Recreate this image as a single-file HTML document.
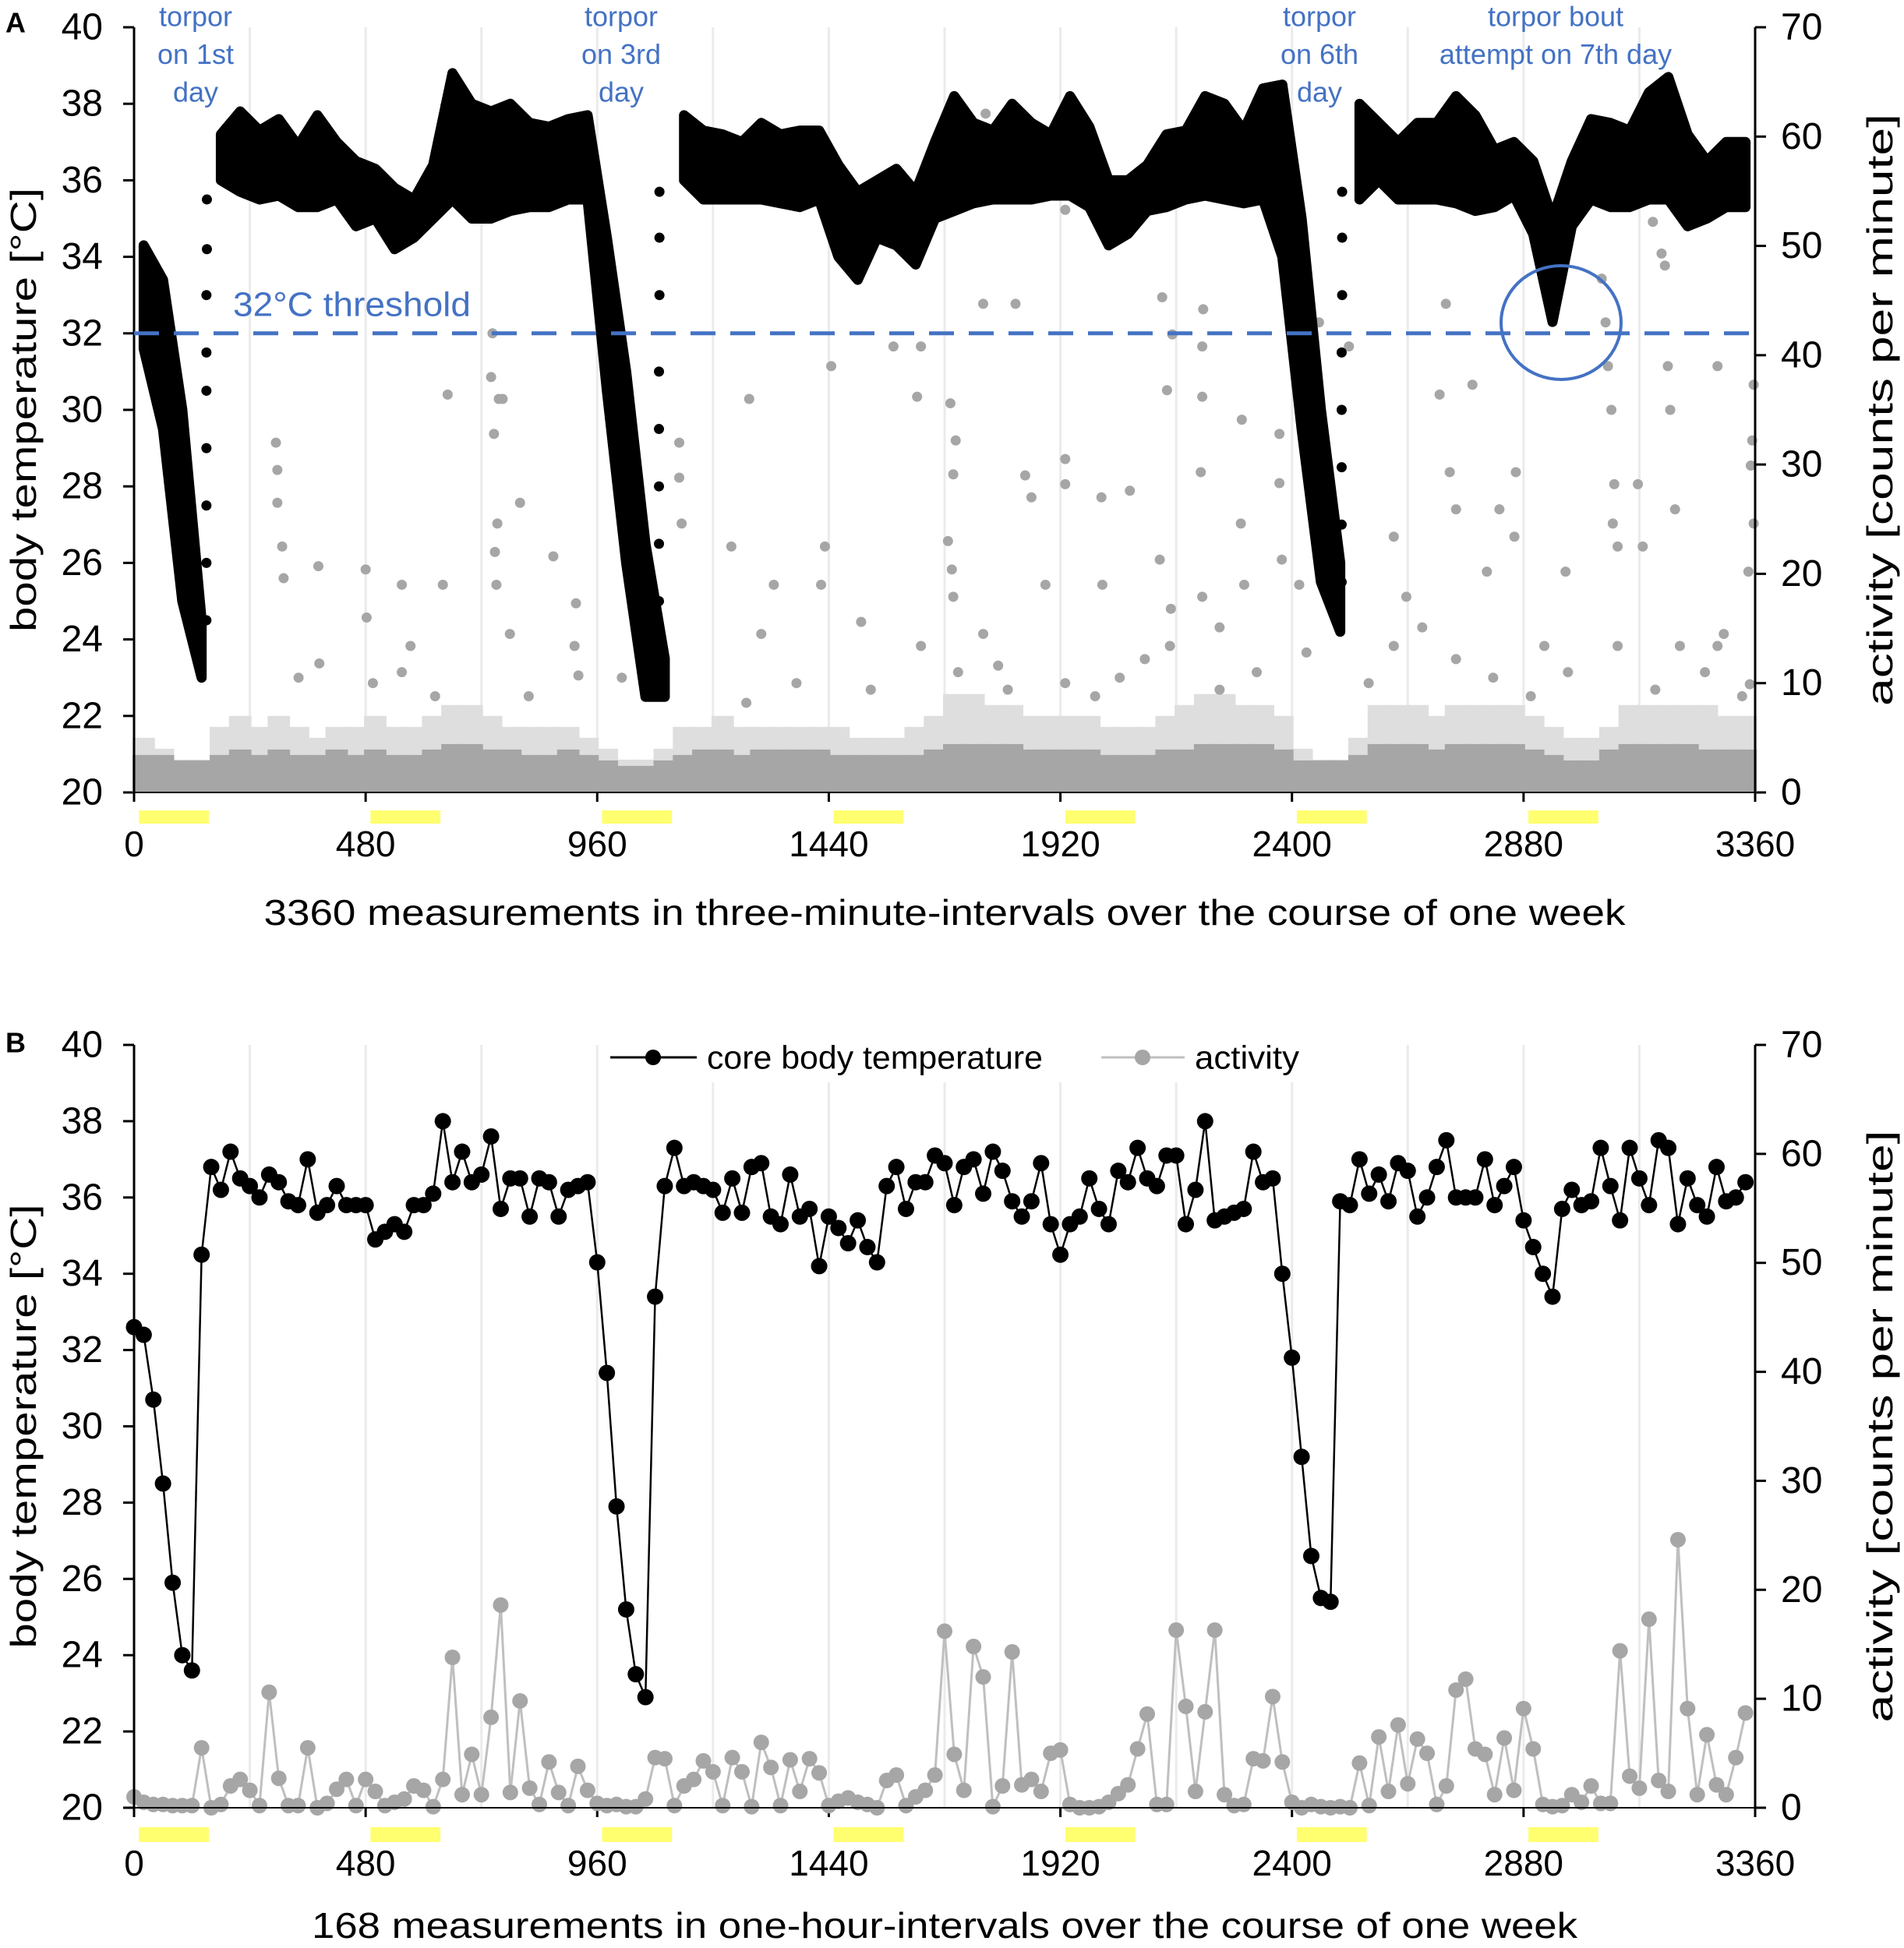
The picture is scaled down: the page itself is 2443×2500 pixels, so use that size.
<!DOCTYPE html>
<html><head><meta charset="utf-8">
<style>
html,body{margin:0;padding:0;background:#fff;}
svg{display:block;font-family:"Liberation Sans",sans-serif;}
</style></head>
<body>
<svg id="chart" width="2443" height="2500" viewBox="0 0 2443 2500" xmlns="http://www.w3.org/2000/svg">
<rect x="0" y="0" width="2443" height="2500" fill="#fff"/>
<g id="gA"></g>
<g id="gB"></g>
</svg>
<script>
// ---------- data ----------
const xTicks = [0,480,960,1440,1920,2400,2880,3360];
const gridMeas = [240,480,720,960,1200,1440,1680,1920,2160,2400,2640,2880,3120];
const tempTicks = [20,22,24,26,28,30,32,34,36,38,40];
const actTicks = [0,10,20,30,40,50,60,70];
const nightStarts = [0,480,960,1440,1920,2400,2880];
// Panel A: body temperature band per 40-measurement bin (lo / hi)
const tempALo = [31.6,29.5,25,23,36,35.7,35.5,35.6,35.3,35.3,35.5,34.8,35,34.2,34.5,35,35.5,35,35,35.2,35.3,35.3,35.5,35.5,30.5,26,22.5,22.5,36,35.5,35.5,35.5,35.5,35.4,35.3,35.5,34,33.4,34.5,34.3,33.8,35,35.2,35.4,35.5,35.5,35.5,35.6,35.6,35.3,34.3,34.6,35.2,35.3,35.5,35.6,35.5,35.4,35.5,34,29.5,25.5,24.2,35.5,36,35.5,35.5,35.5,35.4,35.2,35.3,35.6,34.6,32.3,34.8,35.5,35.3,35.3,35.5,35.5,34.8,35,35.3,35.3];
const tempAHi = [34.3,33.4,30,24.5,37.2,37.8,37.3,37.6,36.9,37.7,37,36.5,36.3,35.8,35.5,36.4,38.8,38,37.8,38,37.5,37.4,37.6,37.7,34.5,31,26.5,23.5,37.7,37.3,37.2,37,37.5,37.2,37.3,37.3,36.4,35.7,36,36.3,35.7,37,38.2,37.5,37.3,38,37.5,37.2,38.2,37.4,36,36,36.4,37.2,37.3,38.2,38,37.3,38.4,38.5,35,30,26,38,37.5,37,37.5,37.5,38.2,37.7,36.8,37,36.5,35,36.5,37.6,37.5,37.3,38.3,38.7,37.2,36.5,37,37];
// bins after which the band breaks (rapid rewarming, drawn as sparse dots)
const bandBreaks = [3,27,62];
// Panel A: sparse rewarming points
const rewarmMeas = [150,150,150,150,150,150,150,151,151,1088,1088,1088,1088,1088,1088,1089,1089,1089,2503,2503,2503,2503,2503,2504,2504,2504];
const rewarmTemp = [24.5,26,27.5,29,30.5,31.5,33,34.2,35.5,23.5,25,26.5,28,29.5,31,33,34.5,35.7,25.5,27,28.5,30,31.5,33,34.5,35.7];
// Panel A: activity
const actABandHi = [3,3,2.5,2.5,3,3.5,3,3.5,3,3,3.5,3,3.5,3,3,3.5,4,4,3.5,3.5,3,3,3.5,3,2.5,2,2,2.5,3,3.5,3.5,3,3.5,3.5,3.5,3.5,3,3,3,3,3,3.5,4,4,4,4,3.5,3.5,3.5,3.5,3,3,3,3.5,3.5,4,4,4,4,3.5,2.5,2.5,2.5,3,4,4,4,3.5,4,4,4,4,3.5,3,2.5,2.5,3.5,4,4,4,4,3.5,3.5,3.5];
const actABandMid = [5,4,3,3,6,7,6,7,6,5,6,6,7,6,6,7,8,8,7,6,6,6,6,5,4,3,3,4,6,6,7,6,6,6,6,6,6,5,5,5,6,7,9,9,8,8,7,7,7,7,6,6,6,7,8,9,9,8,8,7,4,3,3,5,8,8,8,7,8,8,8,8,7,6,5,5,6,8,8,8,8,8,7,7];
const actAMeas = [294,297,297,307,310,382,384,480,482,555,555,640,645,650,689,686,694,743,740,756,746,753,748,751,764,800,869,916,913,921,1130,1130,1135,1238,1275,1300,1326,1424,1432,1445,1507,1574,1631,1623,1692,1703,1698,1687,1695,1698,1765,1760,1791,1827,1847,1860,1889,1930,1930,1930,1930,2005,2007,2064,2126,2131,2141,2152,2149,2147,2216,2214,2211,2214,2214,2250,2296,2294,2301,2374,2374,2379,2415,2456,2454,2461,2518,2611,2637,2670,2706,2719,2727,2740,2774,2804,2830,2864,2861,2923,2967,3042,3050,3055,3062,3068,3065,3075,3117,3127,3148,3166,3173,3179,3184,3194,3204,3282,3295,3282,3357,3354,3351,3357,3346,3349,
341,495,573,624,779,818,1011,1063,1269,1373,1527,1631,1708,1760,1811,1992,2043,2095,2250,2327,2430,2559,2611,2740,2817,2895,2972,3075,3153,3256,3333];
const actAVal = [32,29.5,26.5,22.5,19.6,20.7,11.8,20.4,16,19,11,19,62.8,36.4,60,54.5,53.3,42,38,36,32.8,24.6,22,19,36,26.5,21.6,17.3,13.4,10.7,32,28.8,24.6,22.5,36,14.5,19,19,22.5,39,15.6,40.8,40.8,36.2,35.6,32.2,29.1,23,20.4,17.9,62.1,44.7,11.6,44.7,29,27,19,30.5,28.2,10,53.3,27,19,27.6,21.3,45.3,36.8,41.9,16.8,13.4,44.2,36.2,29.3,17.9,40.8,15.1,34.1,24.6,19,32.8,28.3,21.3,19,43,36.2,22.5,40.8,23.4,17.9,15.1,36.4,44.7,29.3,25.9,37.3,20.2,25.9,29.3,23.4,13.4,20.2,47,43,39,35,28.2,24.6,22.5,28.2,22.5,52.2,49.3,48.2,39,35,25.9,13.4,39,14.5,13.4,37.3,32.2,29.9,24.6,20.2,9.9,
10.5,10,13.4,8.8,14.5,8.8,10.5,8.8,8.2,10,9.4,13.4,11,14.5,9.4,8.8,10.5,12.2,9.4,11,12.8,10,13.4,12.2,10.5,8.8,11,13.4,9.4,11,8.8];
// Panel B: hourly means
const tempB = [32.6,32.4,30.7,28.5,25.9,24.0,23.6,34.5,36.8,36.2,37.2,36.5,36.3,36.0,36.6,36.4,35.9,35.8,37.0,35.6,35.8,36.3,35.8,35.8,35.8,34.9,35.1,35.3,35.1,35.8,35.8,36.1,38.0,36.4,37.2,36.4,36.6,37.6,35.7,36.5,36.5,35.5,36.5,36.4,35.5,36.2,36.3,36.4,34.3,31.4,27.9,25.2,23.5,22.9,33.4,36.3,37.3,
36.3,36.4,36.3,36.2,35.6,36.5,35.6,36.8,36.9,35.5,35.3,36.6,35.5,35.7,34.2,35.5,35.2,34.8,35.4,34.7,34.3,36.3,36.8,35.7,36.4,36.4,37.1,36.9,35.8,36.8,37.0,36.1,37.2,36.7,35.9,35.5,35.9,36.9,35.3,34.5,35.3,35.5,36.5,35.7,35.3,36.7,36.4,37.3,36.5,36.3,37.1,37.1,35.3,36.2,38.0,35.4,35.5,35.6,35.7,37.2,36.4,36.5,
34.0,31.8,29.2,26.6,25.5,25.4,35.9,35.8,37.0,36.1,36.6,35.9,36.9,36.7,35.5,36.0,36.8,37.5,36.0,36.0,36.0,37.0,35.8,36.3,36.8,35.4,34.7,34.0,33.4,35.7,36.2,35.8,35.9,37.3,36.3,35.4,37.3,36.5,35.8,37.5,37.3,35.3,36.5,35.8,35.5,36.8,35.9,36.0,36.4];
const actB = [1,0.5,0.3,0.3,0.2,0.2,0.2,5.5,0,0.3,2,2.6,1.6,0.2,10.6,2.7,0.2,0.2,5.5,0,0.4,1.7,2.6,0.2,2.6,1.5,0.2,0.5,0.8,2,1.6,0.1,2.6,13.8,1.2,4.9,1.2,8.3,18.6,1.4,9.8,1.8,0.3,4.2,1.4,0.2,3.8,1.6,0.4,0.2,0.3,0.1,0.1,0.8,4.6,4.5,0.2,2,2.6,4.3,3.3,0.2,4.6,3.3,0.1,6,3.7,0.2,4.4,1.5,4.5,3.2,0.2,0.6,0.9,0.5,0.3,0,2.5,3.0,0.2,1,1.6,3,16.2,4.9,1.6,14.8,12,0.1,2,14.3,2.1,2.6,1.5,5,5.3,0.3,0,0,0.1,0.5,1.3,2.1,5.4,8.6,0.3,0.3,16.3,9.3,1.5,8.8,16.3,1.2,0.2,0.3,4.5,4.3,10.2,4.2,0.5,0,0.3,0.1,0,0.1,0,4.1,0.2,6.5,1.5,7.6,2.2,6.3,5,0.3,2,10.8,11.8,5.4,4.9,1.2,6.4,1.6,9.1,5.4,0.3,0.1,0.2,1.2,0.5,2,0.4,0.4,14.4,2.9,1.8,17.3,2.5,1.5,24.6,9.1,1.2,6.7,2.1,1.2,4.6,8.7];

// ---------- helpers ----------
const NS = "http://www.w3.org/2000/svg";
const X0 = 172, X1 = 2252;
function xs(m){ return X0 + m/3360*(X1-X0); }
function mk(tag, attrs, parent){
  const e = document.createElementNS(NS, tag);
  for (const k in attrs) e.setAttribute(k, attrs[k]);
  parent.appendChild(e);
  return e;
}
function txt(parent, x, y, s, size, anchor, fill, extra){
  const t = mk('text', {x:x, y:y, 'font-size':size, 'text-anchor':anchor||'middle', fill:fill||'#000', 'dominant-baseline':'central'}, parent);
  if (extra) for (const k in extra) t.setAttribute(k, extra[k]);
  t.textContent = s;
  return t;
}

function drawFrame(g, top, bot, yBarTop, yBarH, tickY, titleY, titleText, titleLen, leftTitleLen, rightTitleLen){
  const yT = t => bot - (t-20)/20*(bot-top);
  const yC = c => bot - c/70*(bot-top);
  gridMeas.forEach(m => {
    const l = mk('line', {x1:xs(m), x2:xs(m), y1:top, y2:bot, stroke:'#ebebeb', 'stroke-width':3}, g);
    
    
  });
  nightStarts.forEach(m => {
    const r = mk('rect', {x:xs(m+10), y:yBarTop, width:xs(m+155)-xs(m+10), height:yBarH, fill:'#ffff70'}, g);
    
    
  });
  xTicks.forEach(m => {
    const t = txt(g, xs(m), tickY, String(m), 46);
    
    
    mk('line', {x1:xs(m), x2:xs(m), y1:bot, y2:bot+12, stroke:'#000', 'stroke-width':3}, g);
  });
  tempTicks.forEach(v => {
    mk('line', {x1:X0-14, x2:X0, y1:yT(v), y2:yT(v), stroke:'#000', 'stroke-width':3}, g);
    const t = txt(g, 132, yT(v), String(v), 48, 'end');
    
    
  });
  actTicks.forEach(v => {
    mk('line', {x1:X1, x2:X1+14, y1:yC(v), y2:yC(v), stroke:'#000', 'stroke-width':3}, g);
    const t = txt(g, 2285, yC(v), String(v), 48, 'start');
    
    
  });
  const xt = txt(g, (X0+X1)/2, titleY, titleText, 46, 'middle', '#000', {textLength:titleLen, lengthAdjust:'spacingAndGlyphs'});
  
  
  const cy = (top+bot)/2;
  const lt = txt(g, 0, 0, 'body temperature [°C]', 46, 'middle', '#000', {transform:`translate(30,${cy}) rotate(-90)`, textLength:leftTitleLen, lengthAdjust:'spacingAndGlyphs'});
  
  
  const rt = txt(g, 0, 0, 'activity [counts per minute]', 46, 'middle', '#000', {transform:`translate(2412,${cy}) rotate(-90)`, textLength:rightTitleLen, lengthAdjust:'spacingAndGlyphs'});
  
  
  return {yT, yC};
}
function drawAxes(g, top, bot){
  mk('line', {x1:X0, x2:X0, y1:top, y2:bot, stroke:'#000', 'stroke-width':3}, g);
  mk('line', {x1:X1, x2:X1, y1:top, y2:bot, stroke:'#000', 'stroke-width':3}, g);
  mk('line', {x1:X0, x2:X1, y1:bot, y2:bot, stroke:'#000', 'stroke-width':2}, g);
}

// ---------- Panel A ----------
(function(){
  const g = document.getElementById('gA');
  const top = 35, bot = 1017;
  const s = drawFrame(g, top, bot, 1040, 17, 1083, 1171, '3360 measurements in three-minute-intervals over the course of one week', 1747, 570, 760);
  const la = txt(g, 20, 29, 'A', 36, 'middle', '#000', {'font-weight':'bold'});
  
  
  actABandMid.forEach((v, k) => {
    const r = mk('rect', {x:xs(k*40)-2, y:s.yC(v), width:xs(40)-X0+4, height:bot-s.yC(v), fill:'#dedede'}, g);
    
    
  });
  actABandHi.forEach((v, k) => {
    const r = mk('rect', {x:xs(k*40)-2, y:s.yC(v)-6, width:xs(40)-X0+4, height:bot-s.yC(v)+6, fill:'#a6a6a6'}, g);
    
    
  });
  actAMeas.forEach((m, i) => {
    const c = mk('circle', {cx:xs(m), cy:s.yC(actAVal[i]), r:6.5, fill:'#a6a6a6'}, g);
    
    
  });
  // temperature band as polygons split at rewarming
  let start = 0;
  const segEnds = bandBreaks.concat([tempALo.length-1]);
  segEnds.forEach(end => {
    const up = [], dn = [];
    for (let k = start; k <= end; k++){
      const cx = xs(k*40+20);
      up.push(cx+','+s.yT(tempAHi[k]));
      dn.unshift(cx+','+s.yT(tempALo[k]));
    }
    const p = mk('polygon', {points: up.concat(dn).join(' '), fill:'#000', stroke:'#000', 'stroke-width':13, 'stroke-linejoin':'round'}, g);
    
    
    start = end + 1;
  });
  rewarmMeas.forEach((m, i) => {
    const c = mk('circle', {cx:xs(m), cy:s.yT(rewarmTemp[i]), r:6.5, fill:'#000'}, g);
    
    
  });
  drawAxes(g, top, bot);
  const th = mk('line', {x1:X0, x2:X1, y1:s.yT(32), y2:s.yT(32), stroke:'#4472c4', 'stroke-width':5, 'stroke-dasharray':'32 19'}, g);
  
  
  const tt = txt(g, 299, 391, '32°C threshold', 44, 'start', '#4472c4', {textLength:305, lengthAdjust:'spacingAndGlyphs'});
  
  
  const circ = mk('ellipse', {cx:2003, cy:414, rx:77, ry:73, fill:'none', stroke:'#4472c4', 'stroke-width':4}, g);
  
  
  const notes = [[251,['torpor','on 1st','day']],[797,['torpor','on 3rd','day']],[1693,['torpor','on 6th','day']],[1996,['torpor bout','attempt on 7th day']]];
  notes.forEach(n => {
    n[1].forEach((line, j) => {
      const t = txt(g, n[0], 21+j*48.5, line, 36, 'middle', '#4472c4');
      
      
    });
  });
})();

// ---------- Panel B ----------
(function(){
  const g = document.getElementById('gB');
  const top = 1341, bot = 2320;
  const s = drawFrame(g, top, bot, 2345, 19, 2391, 2471, '168 measurements in one-hour-intervals over the course of one week', 1624, 570, 760);
  const lb = txt(g, 20, 1338, 'B', 36, 'middle', '#000', {'font-weight':'bold'});
  
  
  const lg = mk('g', {}, g);
  
  
  mk('rect', {x:770, y:1325, width:910, height:64, fill:'#fff'}, lg);
  mk('line', {x1:783, x2:894, y1:1357, y2:1357, stroke:'#000', 'stroke-width':3}, lg);
  mk('circle', {cx:838, cy:1357, r:10, fill:'#000'}, lg);
  const l1 = txt(lg, 907, 1357, 'core body temperature', 42, 'start', '#000', {textLength:431, lengthAdjust:'spacingAndGlyphs'});
  
  
  mk('line', {x1:1413, x2:1520, y1:1357, y2:1357, stroke:'#bfbfbf', 'stroke-width':3}, lg);
  mk('circle', {cx:1466, cy:1357, r:10, fill:'#a6a6a6'}, lg);
  const l2 = txt(lg, 1533, 1357, 'activity', 42, 'start', '#000', {textLength:134, lengthAdjust:'spacingAndGlyphs'});
  
  
  const pa = mk('polyline', {points: actB.map((v,i)=>xs(i*20)+','+s.yC(v)).join(' '), fill:'none', stroke:'#bfbfbf', 'stroke-width':3}, g);
  
  
  actB.forEach((v,i) => {
    const c = mk('circle', {cx:xs(i*20), cy:s.yC(v), r:10, fill:'#a6a6a6'}, g);
    
    
  });
  const pt = mk('polyline', {points: tempB.map((v,i)=>xs(i*20)+','+s.yT(v)).join(' '), fill:'none', stroke:'#000', 'stroke-width':2.5}, g);
  
  
  tempB.forEach((v,i) => {
    const c = mk('circle', {cx:xs(i*20), cy:s.yT(v), r:10.5, fill:'#000'}, g);
    
    
  });
  drawAxes(g, top, bot);
})();
</script>
</body></html>
